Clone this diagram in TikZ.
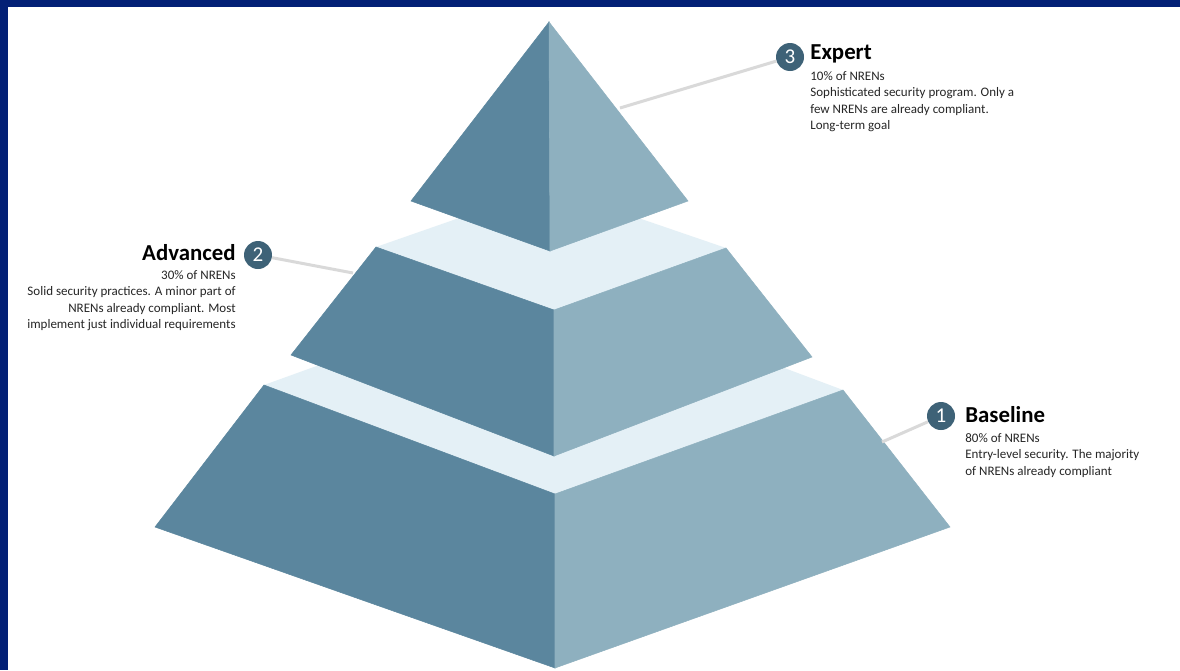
\documentclass[tikz,border=0pt]{standalone}
\usepackage{fontspec}
\setmainfont{Carlito}
\usepackage{tikz}
\usetikzlibrary{positioning}
\definecolor{navy}{RGB}{3,32,118}
\definecolor{darkface}{RGB}{91,134,158}
\definecolor{lightface}{RGB}{142,176,191}
\definecolor{plate}{RGB}{228,240,246}
\definecolor{badge}{RGB}{62,98,119}
\definecolor{leader}{RGB}{217,217,217}
\tikzset{
  num/.style={circle, fill=badge, text=white, minimum size=0.56cm, inner sep=0pt,
    font=\fontsize{12}{12}\selectfont},
  head/.style={inner sep=0pt, font=\fontsize{13}{15}\selectfont\bfseries},
  info/.style={inner sep=0pt, text=black!85, font=\fontsize{7.4}{9.4}\selectfont},
  leaderline/.style={draw=leader, line width=1.7pt},
  darkside/.style={fill=darkface, draw=darkface, line width=0.3pt},
  lightside/.style={fill=lightface, draw=lightface, line width=0.3pt}
}
\begin{document}
\begin{tikzpicture}[x=0.02cm,y=-0.02cm]
\useasboundingbox (0,0) rectangle (1180,670);
\fill[white] (0,0) rectangle (1180,670);
\fill[navy] (0,0) rectangle (1180,7);
\fill[navy] (0,0) rectangle (8,670);

% bottom tier
\coordinate (bl) at (264,385); \coordinate (bf) at (555,494);
\coordinate (br) at (843,390); \coordinate (bb) at (552,281);
\fill[plate] (bl) -- (bf) -- (br) -- (bb) -- cycle;
\path[darkside] (bl) -- (bf) -- (555,668) -- (155,527) -- cycle;
\path[lightside] (bf) -- (br) -- (950,527) -- (555,668) -- cycle;

% middle tier
\coordinate (ml) at (376,247); \coordinate (mf) at (554,310);
\coordinate (mr) at (726,248); \coordinate (mb) at (548,187);
\fill[plate] (ml) -- (mf) -- (mr) -- (mb) -- cycle;
\path[darkside] (ml) -- (mf) -- (554,456) -- (291,355) -- cycle;
\path[lightside] (mf) -- (mr) -- (812,357) -- (554,456) -- cycle;

% top
\coordinate (apex) at (549,22); \coordinate (tf) at (550,251);
\path[darkside] (apex) -- (411,201) -- (tf) -- cycle;
\path[lightside] (apex) -- (tf) -- (688,201) -- cycle;

% badges and texts
\node[num] (n3) at (790,57) {3};
\node[num] (n2) at (258,255) {2};
\node[num] (n1) at (941,416) {1};

\coordinate (c3) at (620,108);
\coordinate (c2) at (353,273);
\coordinate (c1) at (882,442);
\path[leaderline] (c3) -- (n3) (c2) -- (n2) (c1) -- (n1);

\node[head, anchor=west] (h3) at (810,54) {Expert};
\node[info, anchor=north west, align=left] (d3) at (810,71)
  {10\% of NRENs\\Sophisticated security program. Only a\\few NRENs are already compliant.\\Long-term goal};

\node[head, anchor=east] (h2) at (236,253) {Advanced};
\node[info, anchor=north east, align=right] (d2) at (236,270)
  {30\% of NRENs\\Solid security practices. A minor part of\\NRENs already compliant. Most\\implement just individual requirements};

\node[head, anchor=west] (h1) at (965,415) {Baseline};
\node[info, anchor=north west, align=left] (d1) at (965,433)
  {80\% of NRENs\\Entry-level security. The majority\\of NRENs already compliant};
\end{tikzpicture}
\end{document}
